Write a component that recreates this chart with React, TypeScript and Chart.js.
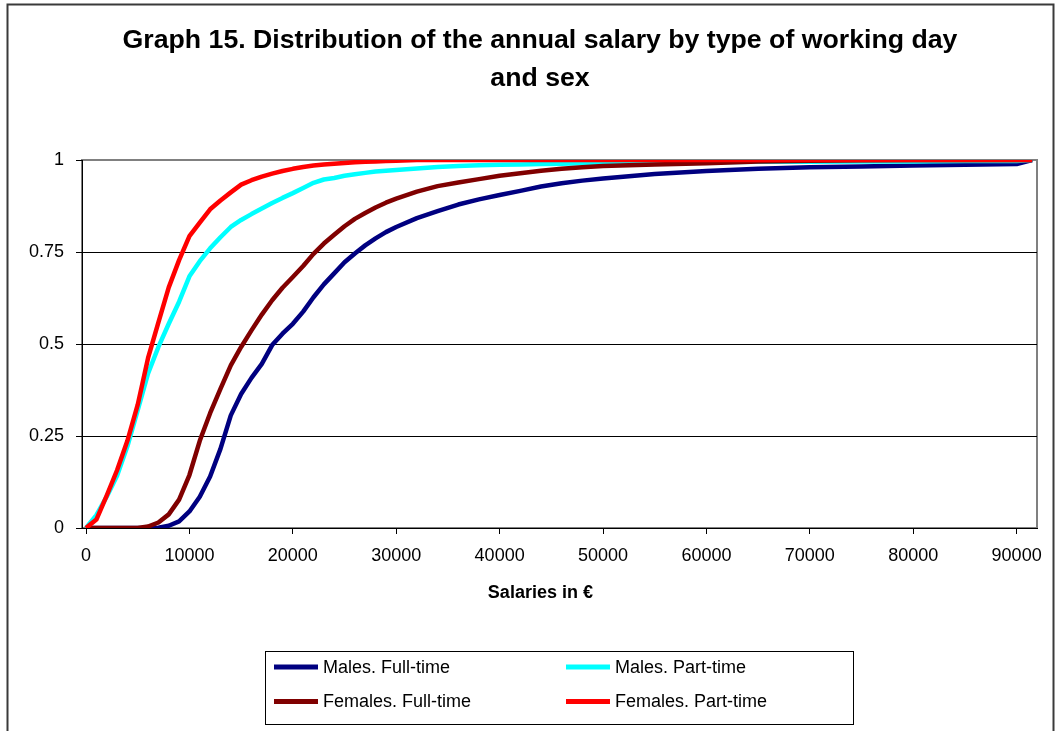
import React, { useEffect, useRef } from "react";
import { Chart, registerables } from "chart.js";

Chart.register(...registerables);

const titleLines = [
  "Graph 15. Distribution of the annual salary by type of working day",
  "and sex",
];
const xAxisTitle = "Salaries in €";
const seriesLabels = [
  "Males. Full-time",
  "Males. Part-time",
  "Females. Full-time",
  "Females. Part-time",
];
const seriesColors = ["#000080", "#00FFFF", "#800000", "#FF0000"];

const xTickValues = [0, 10000, 20000, 30000, 40000, 50000, 60000, 70000, 80000, 90000];
const yTickValues = [0, 0.25, 0.5, 0.75, 1];

const salaries = [
  0, 1000, 2000, 3000, 4000, 5000, 6000, 7000, 8000, 9000,
  10000, 11000, 12000, 13000, 14000, 15000, 16000, 17000, 18000, 19000,
  20000, 21000, 22000, 23000, 24000, 25000, 26000, 27000, 28000, 29000,
  30000, 32000, 34000, 36000, 38000, 40000, 42000, 44000, 46000, 48000,
  50000, 55000, 60000, 65000, 70000, 75000, 80000, 85000, 90000, 91500,
];

const malesFullTime = [
  0, 0, 0, 0, 0, 0, 0, 0.001, 0.006, 0.018,
  0.045, 0.085, 0.14, 0.215, 0.306, 0.364, 0.408, 0.446, 0.497, 0.528,
  0.555, 0.588, 0.627, 0.662, 0.692, 0.722, 0.746, 0.768, 0.787, 0.804,
  0.818, 0.842, 0.861, 0.879, 0.893, 0.905, 0.916, 0.928, 0.937, 0.944,
  0.95, 0.962, 0.97, 0.976, 0.98, 0.982, 0.985, 0.987, 0.989, 1,
];

const malesPartTime = [
  0, 0.035, 0.085, 0.142, 0.222, 0.32, 0.42, 0.492, 0.555, 0.615,
  0.684, 0.725, 0.76, 0.79, 0.818, 0.837, 0.853, 0.868, 0.883, 0.897,
  0.91, 0.924, 0.938, 0.947, 0.951, 0.957, 0.961, 0.965, 0.969, 0.971,
  0.973, 0.977, 0.981, 0.984, 0.986, 0.987, 0.988, 0.989, 0.99, 0.991,
  0.992, 0.993, 0.994, 0.995, 0.995, 0.996, 0.996, 0.997, 0.997, 1,
];

const femalesFullTime = [
  0, 0, 0, 0, 0, 0, 0.004, 0.015, 0.037, 0.077,
  0.144, 0.237, 0.312, 0.378, 0.442, 0.492, 0.537, 0.58, 0.619, 0.653,
  0.682, 0.712, 0.745, 0.773, 0.797, 0.82, 0.84, 0.856, 0.871, 0.884,
  0.895, 0.914, 0.929, 0.939, 0.948, 0.957, 0.964, 0.971, 0.976, 0.98,
  0.984, 0.988, 0.991, 0.996, 0.998, 0.999, 1, 1, 1, 1,
];

const femalesPartTime = [
  0, 0.023, 0.088, 0.157, 0.237, 0.335, 0.462, 0.559, 0.654, 0.728,
  0.793, 0.83, 0.866, 0.89, 0.912, 0.933, 0.945, 0.955, 0.963, 0.97,
  0.976, 0.981, 0.985, 0.988, 0.99, 0.992, 0.994, 0.995, 0.996, 0.997,
  0.998, 1, 1, 1, 1, 1, 1, 1, 1, 1,
  1, 1, 1, 1, 1, 1, 1, 1, 1, 1,
];

const seriesValues = [malesFullTime, malesPartTime, femalesFullTime, femalesPartTime];

const FONT = "'Liberation Sans', Arial, Helvetica, sans-serif";

const decorPlugin = {
  id: "decor",
  beforeDraw(chart: any) {
    const { ctx, chartArea: a } = chart;
    ctx.save();
    ctx.fillStyle = "#ffffff";
    ctx.fillRect(0, 0, chart.width, chart.height);
    ctx.strokeStyle = "#3a3a3a";
    ctx.lineWidth = 2;
    ctx.strokeRect(7.5, 4.5, 1046, 780);
    ctx.strokeStyle = "#808080";
    ctx.lineWidth = 2;
    ctx.strokeRect(a.left, a.top, a.right - a.left, a.bottom - a.top);
    ctx.restore();
  },
  afterDraw(chart: any) {
    const { ctx, chartArea: a } = chart;
    ctx.save();
    // chart title
    ctx.fillStyle = "#000";
    ctx.textAlign = "center";
    ctx.textBaseline = "middle";
    ctx.font = `bold 26.7px ${FONT}`;
    titleLines.forEach((line, i) => ctx.fillText(line, 540, 41 + i * 38));
    // x axis title
    ctx.font = `bold 18px ${FONT}`;
    ctx.fillText(xAxisTitle, a.left + (a.right - a.left) * 0.48, 593);
    // legend
    ctx.strokeStyle = "#000";
    ctx.lineWidth = 1;
    ctx.strokeRect(265.5, 651.5, 588, 73);
    const colX = [274, 566];
    const rowY = [667, 701.5];
    ctx.textAlign = "left";
    ctx.font = `18px ${FONT}`;
    chart.data.datasets.forEach((ds: any, i: number) => {
      const x = colX[i % 2];
      const y = rowY[Math.floor(i / 2)];
      ctx.strokeStyle = ds.borderColor;
      ctx.lineWidth = 5;
      ctx.beginPath();
      ctx.moveTo(x, y);
      ctx.lineTo(x + 44, y);
      ctx.stroke();
      ctx.fillStyle = "#000";
      ctx.fillText(ds.label, x + 49, y + 1);
    });
    ctx.restore();
  },
};

export default function App() {
  const canvasRef = useRef<HTMLCanvasElement | null>(null);

  useEffect(() => {
    if (!canvasRef.current) return;
    const datasets = seriesLabels.map((label, i) => ({
      label,
      data: salaries.map((x, j) => ({ x, y: seriesValues[i][j] })),
      borderColor: seriesColors[i],
      backgroundColor: seriesColors[i],
      borderWidth: 4.5,
      pointRadius: 0,
      tension: 0,
      fill: false,
      order: seriesLabels.length - i,
      borderJoinStyle: "round" as const,
    }));

    const chart = new Chart(canvasRef.current, {
      type: "line",
      data: { datasets },
      plugins: [decorPlugin],
      options: {
        animation: false,
        responsive: false,
        devicePixelRatio: 1,
        layout: { padding: { left: 20, right: 18, top: 160, bottom: 121 } },
        plugins: {
          legend: { display: false },
          tooltip: { enabled: false },
          title: { display: false },
        },
        scales: {
          x: {
            type: "linear",
            min: -390,
            max: 91970,
            afterBuildTicks(scale: any) {
              scale.ticks = xTickValues.map((v) => ({ value: v }));
            },
            afterFit(scale: any) {
              scale.height = 82;
            },
            ticks: {
              color: "#000",
              font: { family: FONT, size: 18 },
              padding: 11,
              maxRotation: 0,
              autoSkip: false,
              callback: (v: any) => String(v),
            },
            grid: {
              drawOnChartArea: false,
              drawTicks: true,
              tickLength: 6,
              tickColor: "#000",
              color: "#000",
            },
            border: { color: "#000", width: 1 },
          },
          y: {
            type: "linear",
            min: 0,
            max: 1,
            afterBuildTicks(scale: any) {
              scale.ticks = yTickValues.map((v) => ({ value: v }));
            },
            afterFit(scale: any) {
              scale.width = 62;
            },
            ticks: {
              color: "#000",
              font: { family: FONT, size: 18 },
              padding: 12,
              callback: (v: any) => String(v),
            },
            grid: {
              color: (c: any) => (c.tick && c.tick.value === 1 ? "#808080" : "#000"),
              drawTicks: true,
              tickLength: 6,
              tickColor: "#000",
              lineWidth: 1,
            },
            border: { color: "#000", width: 1 },
          },
        },
      },
    });
    return () => chart.destroy();
  }, []);

  return (
    <div style={{ position: "absolute", left: 0, top: 0, width: 1055, height: 731, background: "#fff" }}>
      <canvas ref={canvasRef} width={1055} height={731} style={{ display: "block" }} />
    </div>
  );
}
